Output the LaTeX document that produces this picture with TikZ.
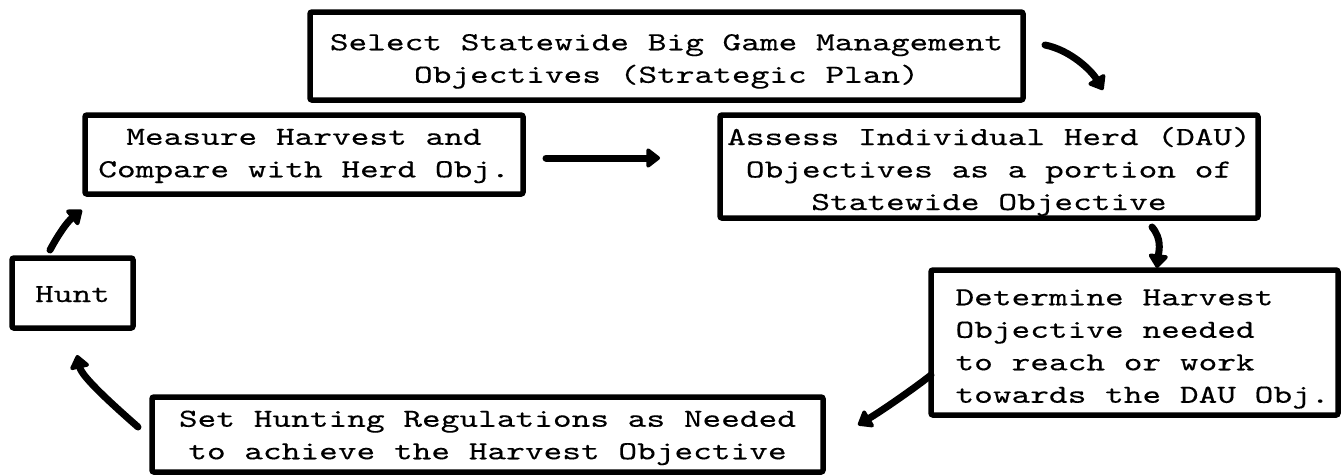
\documentclass[tikz,border=0pt]{standalone}
\usepackage{fontspec}
\newfontfamily\tw{lmmono10-regular}[Extension=.otf,FakeStretch=1.37,FakeBold=0.3]
\usetikzlibrary{arrows.meta,calc}
\newcommand\btxt[3]{\raisebox{#1}[\height][\depth]{\begin{tabular}{@{}#2@{}}#3\end{tabular}}}
\begin{document}
\begin{tikzpicture}[x=1pt,y=-1pt,
  box/.style={draw, line width=5.5pt, rounded corners=2pt, inner sep=0pt, outer sep=0pt,
    font=\tw\fontsize{26}{32.5}\selectfont},
  arr/.style={line width=7pt, line cap=round, -{Triangle[length=15pt,width=22pt,round]}}]
\useasboundingbox[fill=white] (0,0) rectangle (1341,475);

\node[box, minimum width=713pt, minimum height=88pt] (sel) at (666.5,56)
  {\btxt{-4pt}{c}{Select Statewide Big Game Management\\Objectives (Strategic Plan)}};
\node[box, minimum width=438pt, minimum height=79pt] (meas) at (304,154.5)
  {\btxt{0pt}{c}{Measure Harvest and\\Compare with Herd Obj.}};
\node[box, minimum width=538pt, minimum height=103pt] (ass) at (989,166.5)
  {\btxt{-4.5pt}{c}{Assess Individual Herd (DAU)\\Objectives as a portion of\\Statewide Objective}};
\node[box, minimum width=407pt, minimum height=145pt] (det) at (1134.5,342.5)
  {\hspace*{16pt}\btxt{-5pt}{l}{Determine Harvest\\Objective needed\\to reach or work\\towards the DAU Obj.}};
\node[box, minimum width=121pt, minimum height=70pt] (hunt) at (72.5,293)
  {\btxt{-2.5pt}{c}{Hunt}};
\node[box, minimum width=671pt, minimum height=75pt] (set) at (487.5,434.5)
  {\btxt{-2pt}{c}{Set Hunting Regulations as Needed\\to achieve the Harvest Objective}};

\coordinate (a1s) at ($(sel.east)+(22,-11)$);
\coordinate (a1e) at ($(ass.north)+(114,-25)$);
\coordinate (a2s) at ($(meas.east)+(23,3.5)$);
\coordinate (a2e) at ($(ass.west)+(-60,-8.5)$);
\coordinate (a3s) at ($(ass.south)+(163,9)$);
\coordinate (a3e) at ($(det.north)+(22.5,-2)$);
\coordinate (a4s) at ($(det.west)+(0,32.5)$);
\coordinate (a4e) at ($(set.east)+(35,-9.5)$);
\coordinate (a5s) at ($(set.west)+(-14,-7.5)$);
\coordinate (a5e) at ($(hunt.south)+(4.5,27)$);
\coordinate (a6s) at ($(hunt.north)+(-22.5,-8)$);
\coordinate (a6e) at ($(meas.south west)+(-3,16)$);

\draw[arr] (a1s) .. controls +(25,5) and +(-12,-20) .. (a1e);
\draw[arr] (a2s) -- (a2e);
\draw[arr] (a3s) .. controls +(10,12) and +(2,-18) .. (a3e);
\draw[arr] (a4s) .. controls +(-15,12) and +(25,-15) .. (a4e);
\draw[arr] (a5s) .. controls +(-25,-22) and +(5,22) .. (a5e);
\draw[arr] (a6s) .. controls +(8,-15) and +(-15,12) .. (a6e);
\end{tikzpicture}
\end{document}
